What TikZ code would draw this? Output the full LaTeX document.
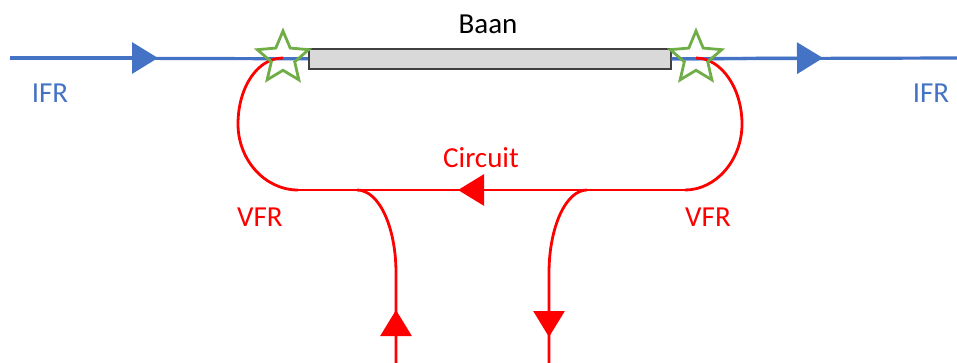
\documentclass[tikz,border=0pt]{standalone}
\usepackage{fontspec}
\setmainfont{Carlito}
\usetikzlibrary{arrows.meta,shapes.geometric}
\definecolor{ifrblue}{HTML}{4472C4}
\definecolor{vfrred}{HTML}{FF0000}
\definecolor{stargreen}{HTML}{70AD47}
\definecolor{rwfill}{HTML}{D9D9D9}
\definecolor{rwdraw}{HTML}{404040}
\tikzset{
  blueline/.style={draw=ifrblue, line width=3.2pt},
  redline/.style={draw=vfrred, line width=2.8pt},
  bigtip/.style={-{Triangle[length=26pt,width=31pt]}},
  starmark/.style={star, star points=5, star point ratio=2.2, minimum size=54pt, inner sep=0pt, draw=stargreen, line width=2.8pt},
  lbl/.style={font=\fontsize{29}{32}\selectfont, anchor=base, inner sep=0pt},
}
\begin{document}
\begin{tikzpicture}[x=1pt,y=-1pt]
\useasboundingbox (0,0) rectangle (957,363);
% runway
\node[draw=rwdraw, fill=rwfill, line width=1.6pt, minimum width=362pt, minimum height=20pt, inner sep=0pt, anchor=north west] (runway) at (308,48) {};
\node[lbl, text=black] (baan) at (488,34) {Baan};
% IFR line
\coordinate (ifrL) at (10,58);
\coordinate (ifrR) at (957,58);
\coordinate (tipL) at (158,58);
\coordinate (tipR) at (823,58);
\draw[blueline] (ifrL) -- (runway.west);
\draw[blueline, bigtip] (ifrL) -- (tipL);
\draw[blueline] (runway.east) -- (ifrR);
\draw[blueline, bigtip] (runway.east) -- (tipR);
\node[lbl, text=ifrblue] (ifrl) at (50,103) {IFR};
\node[lbl, text=ifrblue] (ifrr) at (931,103) {IFR};
% star positions
\coordinate (sLc) at (283,58);
\coordinate (sRc) at (696,58);
% circuit
\coordinate (bL) at (298,190);
\coordinate (bR) at (685,190);
\coordinate (tipC) at (458,190);
\draw[redline] (sLc) .. controls (257,58) and (238,88) .. (238,124)
   .. controls (238,160) and (265,190) .. (bL);
\draw[redline] (sRc) .. controls (721,58) and (742,88) .. (742,124)
   .. controls (742,160) and (716,190) .. (bR);
\draw[redline] (bR) -- (bL);
\draw[redline, bigtip] (bR) -- (tipC);
% branches
\coordinate (jL) at (357,190);
\coordinate (jR) at (587,190);
\coordinate (inB) at (396,363);
\coordinate (outB) at (549,363);
\coordinate (tipIn) at (396,310);
\coordinate (tipOut) at (549,337);
\draw[redline] (jL) .. controls (379,190) and (396,227) .. (396,273) -- (inB);
\draw[redline, bigtip] (inB) -- (tipIn);
\draw[redline] (jR) .. controls (566,190) and (549,227) .. (549,273) -- (outB);
\draw[redline, bigtip] (549,273) -- (tipOut);
\node[lbl, text=vfrred] (circ) at (481,168) {Circuit};
\node[lbl, text=vfrred] (vfrl) at (260,226) {VFR};
\node[lbl, text=vfrred] (vfrr) at (708,226) {VFR};
% stars
\node[starmark] (sL) at (sLc) {};
\node[starmark] (sR) at (sRc) {};
\end{tikzpicture}
\end{document}
